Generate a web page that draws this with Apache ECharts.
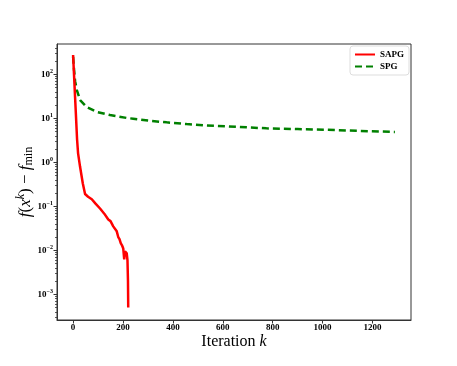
<!DOCTYPE html>
<html>
<head>
<meta charset="utf-8">
<script src="https://cdn.jsdelivr.net/npm/echarts@6/dist/echarts.min.js"></script>
<style>
  html,body{margin:0;padding:0;background:#fff;}
  #main{width:457px;height:366px;}
</style>
</head>
<body>
<div id="main"></div>
<script>
// SAPG curve (iteration, f - fmin)
var sapgIter = [0, 4, 8, 12, 16, 20, 28, 39, 48, 60, 75, 90, 108, 125, 141, 150, 161, 168, 175, 181, 186, 191, 196, 201, 205, 208, 211, 215, 218, 220, 221];
var sapgVal  = [275, 91, 30, 10, 3.3, 1.6, 0.79, 0.33, 0.19, 0.165, 0.145, 0.115, 0.089, 0.068, 0.05, 0.046, 0.035, 0.032, 0.027, 0.02, 0.018, 0.0145, 0.013, 0.011, 0.0062, 0.0095, 0.0093, 0.0085, 0.006, 0.002, 0.0005];

// SPG curve
var spgIter = [0, 4, 8, 15, 28, 55, 95, 148, 215, 241, 300, 375, 455, 535, 615, 695, 775, 900, 1015, 1140, 1290];
var spgVal  = [251, 125, 70, 44, 26, 18, 14, 11.9, 10.2, 9.8, 8.9, 8.1, 7.4, 6.9, 6.6, 6.24, 5.93, 5.7, 5.5, 5.2, 4.9];

var xTicks = [0, 200, 400, 600, 800, 1000, 1200];
var yTicks = [0.001, 0.01, 0.1, 1, 10, 100];
var yExps  = ['\u22123', '\u22122', '\u22121', '0', '1', '2'];

function minorTicks(){
  var list = [];
  for( var e = -4 ; e <= 2 ; e++ ){
    for( var m = 2 ; m <= 9 ; m++ ){
      var v = m * Math.pow(10, e);
      if( v > 0.00026 && v < 490 ){
        list.push(v);
      }
    }
  }
  return list;
}

function pairs(xs, ys){
  var out = [];
  for( var i = 0 ; i < xs.length ; i++ ){
    out.push([xs[i], ys[i]]);
  }
  return out;
}

var serif = 'Liberation Serif';
var chart = echarts.init(document.getElementById('main'), null, {renderer: 'canvas'});

var yMin = 0.00026, yMax = 490;

var option = {
  animation: false,
  backgroundColor: '#fff',
  grid: {
    left: 57, right: 46, top: 44, bottom: 46,
    show: true, borderColor: '#333', borderWidth: 1
  },
  legend: {
    orient: 'vertical',
    left: 350, top: 46,
    padding: [4, 5, 4, 4],
    itemWidth: 20, itemHeight: 10, itemGap: 3,
    backgroundColor: '#fff',
    borderColor: '#ddd', borderWidth: 1, borderRadius: 3,
    itemStyle: {opacity: 0},
    textStyle: {fontFamily: serif, fontWeight: 'bold', fontSize: 9, color: '#000'},
    data: ['SAPG', 'SPG']
  },
  xAxis: {
    type: 'value',
    min: -64.5, max: 1354.5,
    name: '{n|Iteration }{i|k}',
    nameLocation: 'middle',
    nameGap: 14,
    nameMoveOverlap: false,
    nameTextStyle: {
      rich: {
        n: {fontFamily: serif, fontSize: 16, color: '#000'},
        i: {fontFamily: serif, fontSize: 16, fontStyle: 'italic', color: '#000'}
      }
    },
    axisLine: {show: true, onZero: false, lineStyle: {color: '#333', width: 1}},
    axisTick: {show: true, length: 3.5, lineStyle: {color: '#333'}, customValues: xTicks},
    axisLabel: {
      customValues: xTicks,
      margin: 3,
      formatter: function(v){ return String(v); },
      fontFamily: serif, fontWeight: 'bold', fontSize: 9, color: '#000'
    },
    splitLine: {show: false}
  },
  yAxis: [{
    type: 'log',
    logBase: 10,
    min: yMin, max: yMax,
    name: '{i|f}{n|(}{i|x}{s|k}{n|) \u2212 }{i|f}{m|min}',
    nameLocation: 'middle',
    nameRotate: 90,
    nameGap: 21,
    nameMoveOverlap: false,
    nameTextStyle: {
      rich: {
        n: {fontFamily: serif, fontSize: 17, color: '#000'},
        i: {fontFamily: serif, fontSize: 17, fontStyle: 'italic', color: '#000'},
        s: {fontFamily: serif, fontSize: 12, fontStyle: 'italic', color: '#000', padding: [0, 0, 9, 0]},
        m: {fontFamily: serif, fontSize: 12, color: '#000', padding: [6, 0, 0, 0]}
      }
    },
    axisLine: {show: true, onZero: false, lineStyle: {color: '#333', width: 1}},
    axisTick: {show: true, length: 3.5, lineStyle: {color: '#333'}, customValues: yTicks},
    axisLabel: {
      customValues: yTicks,
      margin: 4,
      formatter: function(v){
        var idx = Math.round(Math.log(v) / Math.LN10) + 3;
        return '{b|10}{s|' + yExps[idx] + '}';
      },
      rich: {
        b: {fontFamily: serif, fontWeight: 'bold', fontSize: 9, color: '#000'},
        s: {fontFamily: serif, fontWeight: 'bold', fontSize: 6, color: '#000', padding: [0, 0, 6, 0]}
      }
    },
    splitLine: {show: false}
  }, {
    // minor ticks only
    type: 'log',
    logBase: 10,
    min: yMin, max: yMax,
    position: 'left',
    axisLine: {show: false, onZero: false},
    axisTick: {show: true, length: 2, lineStyle: {color: '#333', width: 0.8}, customValues: minorTicks()},
    axisLabel: {show: false},
    splitLine: {show: false}
  }],
  series: [{
    name: 'SAPG',
    type: 'line',
    showSymbol: false,
    symbol: 'none',
    data: pairs(sapgIter, sapgVal),
    lineStyle: {color: '#ff0000', width: 2.5},
    itemStyle: {color: '#ff0000'},
    z: 3
  }, {
    name: 'SPG',
    type: 'line',
    showSymbol: false,
    symbol: 'none',
    data: pairs(spgIter, spgVal),
    lineStyle: {color: '#008000', width: 2.5, type: [7, 4]},
    itemStyle: {color: '#008000'},
    z: 2
  }]
};

chart.setOption(option);
</script>
</body>
</html>
